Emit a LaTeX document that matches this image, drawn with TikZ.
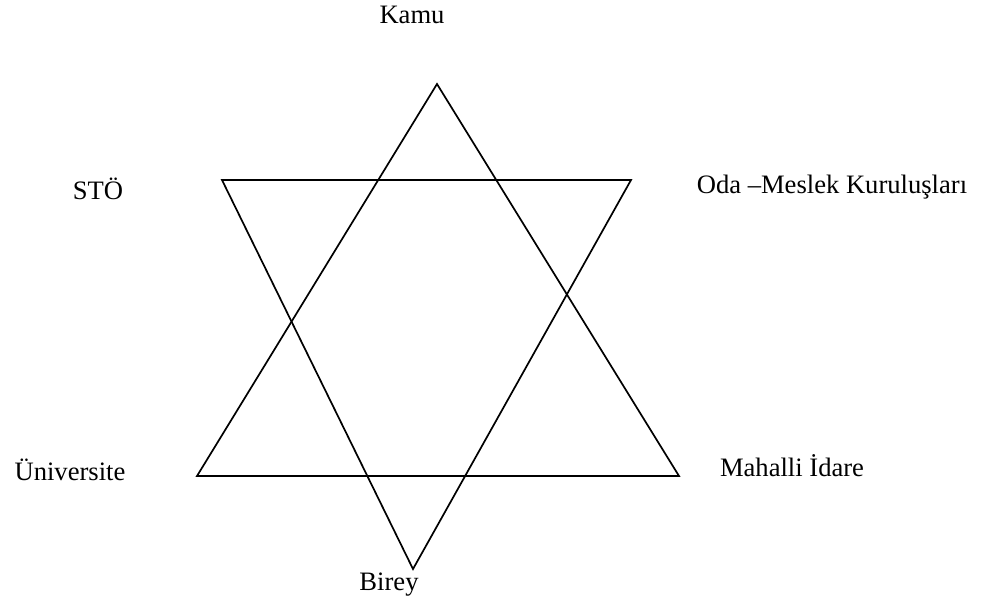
\documentclass[tikz,border=0pt]{standalone}
\usepackage{fontspec}
\setmainfont{Liberation Serif}
\begin{document}
\begin{tikzpicture}[x=1pt,y=-1pt,
  edge/.style={line width=1.7pt,line join=miter},
  lbl/.style={anchor=base,inner sep=0pt,font=\fontsize{26.6}{30}\selectfont}]
\useasboundingbox (0,0) rectangle (983,603);
\coordinate (A) at (437,84);
\coordinate (B) at (197,476);
\coordinate (C) at (679,476);
\coordinate (D) at (222,180);
\coordinate (E) at (631,180);
\coordinate (F) at (413,569);
\draw[edge] (A) -- (B) -- (C) -- cycle;
\draw[edge] (D) -- (E) -- (F) -- cycle;
\node[lbl] (kamu) at (412,23) {Kamu};
\node[lbl] (sto) at (98,199) {STÖ};
\node[lbl] (oda) at (832,193) {Oda –Meslek Kuruluşları};
\node[lbl] (uni) at (70,480) {Üniversite};
\node[lbl] (mah) at (792,476) {Mahalli İdare};
\node[lbl] (birey) at (389,590) {Birey};
\end{tikzpicture}
\end{document}
